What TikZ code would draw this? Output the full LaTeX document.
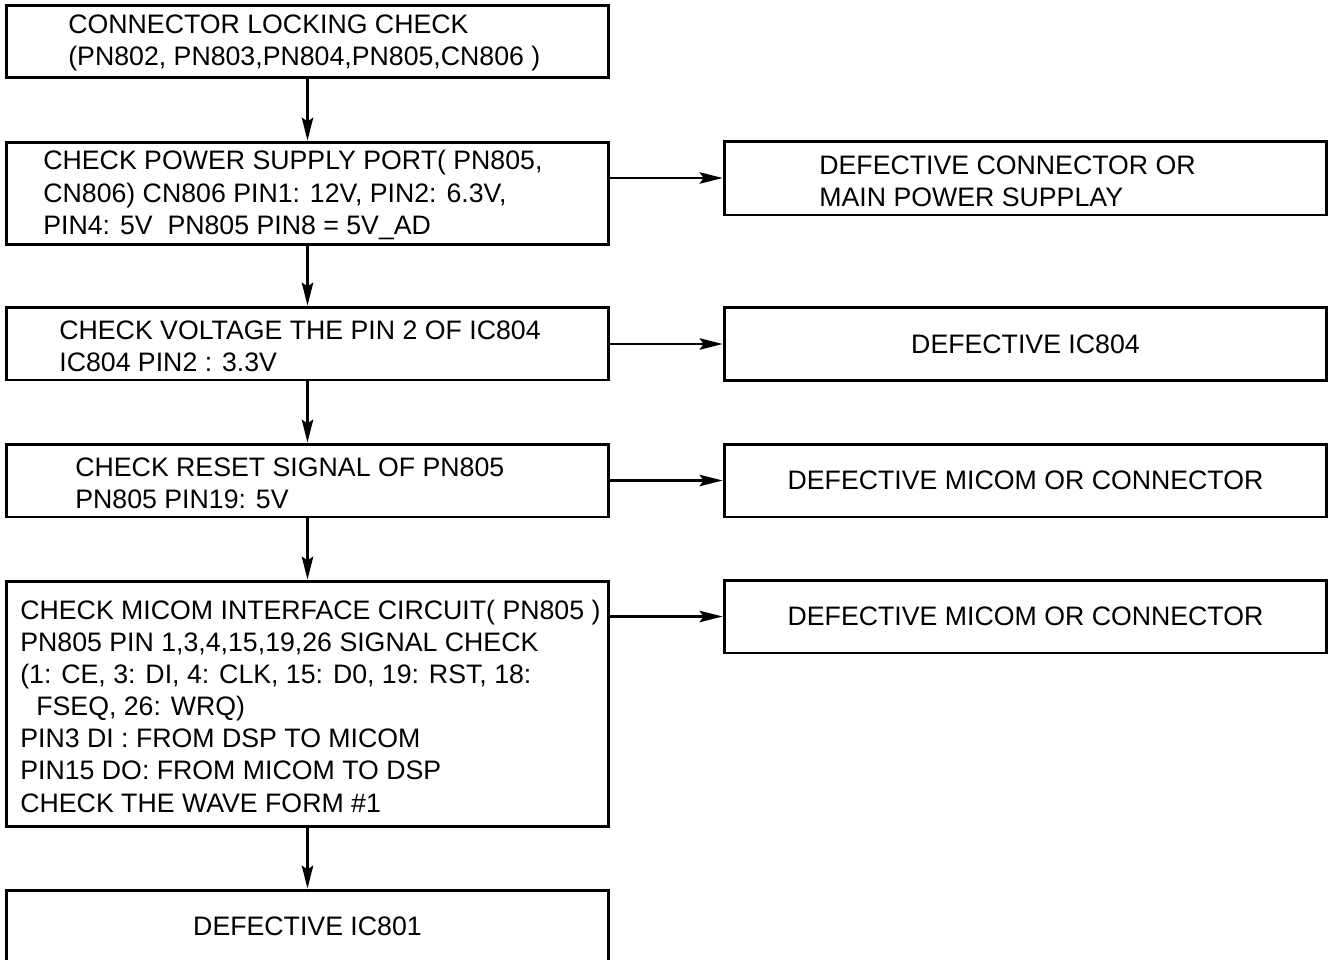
\documentclass[tikz,border=0pt]{standalone}
\usepackage{fontspec}
\setmainfont{Liberation Sans}
\usetikzlibrary{arrows.meta}

\begin{document}
\begin{tikzpicture}[x=0.02cm,y=-0.02cm,every node/.style={font=\fontsize{15.2}{18.3}\selectfont},
      box/.style={draw,line width=1.7pt,minimum width=12.06cm,minimum height=1.46cm,inner sep=0pt},
      txt/.style={anchor=west,align=left,inner sep=0pt},
      arr/.style={line width=1.3pt,-{Stealth[length=0.46cm,width=0.23cm,inset=0.08cm]}}]
    \useasboundingbox (0,0) rectangle (1330,960);
    % Check steps
    \node[box] (lock) at (307.5,41.5) {};
    \node[box,minimum height=2.06cm] (pwr) at (307.5,193.5) {};
    \node[box] (volt) at (307.5,343.5) {};
    \node[box] (rst) at (307.5,480.5) {};
    \node[box,minimum height=4.92cm] (micom) at (307.5,704) {};
    \node[box] (ic801) at (307.5,926.5) {DEFECTIVE IC801};
    % Defect results
    \node[box,minimum height=1.48cm] (dconn) at (1025.5,178) {};
    \node[box] (dic804) at (1025.5,344) {DEFECTIVE IC804};
    \node[box] (dmicoma) at (1025.5,480.5) {DEFECTIVE MICOM OR CONNECTOR};
    \node[box] (dmicomb) at (1025.5,616.5) {DEFECTIVE MICOM OR CONNECTOR};
    % Box texts
    \node[txt] (tlock) at (68,43) {CONNECTOR LOCKING CHECK\\(PN802, PN803,PN804,PN805,CN806 )};
    \node[txt] (tpwr) at (43,195) {CHECK POWER SUPPLY PORT( PN805,\\CN806) CN806 PIN1: 12V, PIN2: 6.3V,\\PIN4: 5V\ \ PN805 PIN8 = 5V\_AD};
    \node[txt] (tvolt) at (59,346) {CHECK VOLTAGE THE PIN 2 OF IC804\\IC804 PIN2 : 3.3V};
    \node[txt] (trst) at (75,483) {CHECK RESET SIGNAL OF PN805\\PN805 PIN19: 5V};
    \node[txt] (tmicom) at (20,706) {CHECK MICOM INTERFACE CIRCUIT( PN805 )\\PN805 PIN 1,3,4,15,19,26 SIGNAL CHECK\\(1: CE, 3: DI, 4: CLK, 15: D0, 19: RST, 18:\\\hspace*{0.32cm}FSEQ, 26: WRQ)\\PIN3 DI : FROM DSP TO MICOM\\PIN15 DO: FROM MICOM TO DSP\\CHECK THE WAVE FORM \#1};
    \node[txt] (tdconn) at (819,181) {DEFECTIVE CONNECTOR OR\\MAIN POWER SUPPLAY};
    \foreach \a/\b in {lock/pwr,pwr/volt,volt/rst,rst/micom,micom/ic801}{\draw[arr](\a)--(\b);}
    \foreach \a/\b in {pwr/dconn,volt/dic804,rst/dmicoma,micom/dmicomb}{\draw[arr](\a.east |- \b)--(\b.west);}
  \end{tikzpicture}
\end{document}
